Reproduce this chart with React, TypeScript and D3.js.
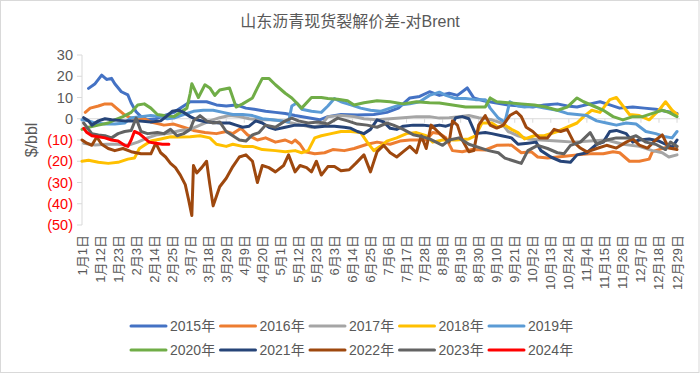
import React from 'react';
import * as d3 from 'd3';

const title = '山东沥青现货裂解价差-对Brent';
const yTicks = [30, 20, 10, 0, -10, -20, -30, -40, -50];
const xTickLabels = ['1月1日','1月12日','1月23日','2月3日','2月14日','2月25日','3月7日','3月18日','3月29日','4月9日','4月20日','5月1日','5月12日','5月23日','6月3日','6月14日','6月25日','7月6日','7月17日','7月28日','8月8日','8月19日','8月30日','9月10日','9月21日','10月2日','10月13日','10月24日','11月4日','11月15日','11月26日','12月7日','12月18日','12月29日'];
const xTickStep = 11;

type Pt = [number, number];
const s2015: Pt[] = [[4,14.3],[8,16.5],[12,20.5],[15,18.5],[18,19],[20,16.5],[24,12.7],[28,11.2],[30,7.4],[33,3.3],[36,1],[40,-0.5],[45,0],[50,1.5],[56,3],[62,6],[66,8],[71,8],[76,8],[82,6.5],[88,6],[94,6.5],[100,5],[105,4.5],[112,3.5],[118,3],[124,2.5],[130,1.5],[138,0.5],[145,-0.5],[150,1],[158,2],[168,1.8],[178,2],[186,3],[193,5],[200,9.8],[206,10.5],[212,12.7],[218,11],[224,12],[229,11],[235,14.5],[239,9.8],[245,8.5],[252,7.5],[260,6.5],[268,6],[275,5.5],[282,6.5],[290,7],[296,6],[302,5.5],[310,7],[316,8],[322,6.5],[328,5],[336,5.5],[343,5],[350,4.5],[356,3.5],[363,2.5]];
const s2016: Pt[] = [[2,3],[5,5],[10,6],[14,7],[18,7],[21,5],[26,1.8],[30,0.3],[38,0],[42,-1.5],[50,-3],[56,-2.5],[62,-4],[68,-5.5],[75,-6.5],[82,-7],[88,-6],[92,-7],[97,-4.5],[101,-7.6],[107,-10],[112,-9],[118,-11],[124,-10],[128,-11.4],[130,-10],[133,-12],[136,-15.5],[142,-16.5],[148,-16],[153,-14.5],[160,-15],[166,-14],[174,-12],[180,-11],[188,-12],[194,-10.5],[200,-10],[206,-10],[210,-10],[214,-6.5],[218,-7],[222,-9],[226,-15],[232,-15.5],[238,-14.5],[246,-14.7],[253,-12.5],[262,-12.4],[268,-16],[274,-15.5],[278,-18],[284,-18.5],[290,-18],[296,-17.5],[302,-17],[310,-16.5],[318,-16.5],[324,-15.5],[328,-16],[334,-20],[340,-20],[346,-19],[348,-15.5],[352,-14.5],[358,-13],[363,-13]];
const s2017: Pt[] = [[1,-11.5],[8,-12.4],[15,-12],[22,-12],[28,-12.5],[34,-11],[40,-9],[46,-7.5],[54,-6.7],[60,-5.5],[66,-5],[72,-3],[78,-1],[84,0.5],[90,1.5],[96,1],[102,0],[108,-0.5],[115,-0.5],[122,-1],[128,-2],[134,-3],[140,-4],[146,-3],[150,1],[158,1.5],[166,1],[172,0],[180,-0.5],[188,0],[196,0.5],[204,1],[212,1],[218,0.3],[224,0.5],[230,1],[236,1.5],[242,0.5],[250,-0.5],[256,-2],[260,-6],[266,-8],[272,-9.5],[280,-10],[290,-10.5],[300,-11],[310,-10.5],[320,-10],[330,-12],[340,-13],[348,-15],[354,-16],[358,-18],[363,-17]];
const s2018: Pt[] = [[0,-20],[4,-19.5],[10,-20.5],[16,-21],[22,-20.5],[28,-19],[32,-18.5],[35,-14],[38,-12.5],[42,-10.5],[48,-9.5],[54,-8.5],[60,-8.6],[66,-8.5],[72,-8],[78,-9],[82,-12],[88,-13],[92,-12],[98,-13],[104,-13],[110,-14.5],[118,-15],[124,-15.5],[130,-15],[134,-16],[138,-15],[142,-9],[146,-8],[152,-7],[158,-6],[164,-6],[170,-6.5],[174,-11],[178,-15],[182,-13],[186,-10.5],[192,-9],[198,-7],[204,-6.5],[210,-8],[214,-11],[220,-10],[228,-10],[236,-9.5],[240,-8],[244,-2],[250,-2],[254,-4],[258,-3],[262,-5],[266,-6.5],[270,-9.5],[276,-8],[282,-8],[290,-6],[296,-4],[302,-2],[306,1],[311,4],[316,3],[322,9],[326,10],[330,6],[334,2],[340,1.5],[346,-0.5],[352,4],[356,8],[360,4],[363,2]];
const s2019: Pt[] = [[0,-0.5],[4,-1],[8,-2],[14,-2.5],[20,-2.5],[26,-2],[30,0.5],[36,1],[42,1.5],[48,1],[52,0],[56,0.3],[62,2],[68,3.5],[74,4],[80,4],[86,3],[92,2],[98,2],[104,1.5],[110,0],[116,-0.5],[122,-1],[126,-1.5],[128,6],[131,7.4],[134,4.5],[140,3.5],[146,3],[150,6],[154,9.5],[158,8],[164,6.5],[170,5],[176,4],[182,3.5],[188,5],[194,6.5],[200,7],[206,8],[212,11],[218,12.5],[222,11],[228,9.5],[234,9.5],[240,9],[246,9],[249,5],[254,0.3],[258,-1.5],[261,8],[266,6],[270,5.5],[276,6],[282,5],[290,4],[296,2.5],[302,2],[308,1.5],[314,-1],[320,-2],[326,-3],[332,-2],[338,-2.5],[344,-6],[350,-7],[356,-8.5],[360,-9],[363,-6]];
const s2020: Pt[] = [[0,-5],[4,-4],[10,-3],[16,-2],[20,-0.5],[25,1],[30,3],[34,6.5],[38,7],[42,5],[46,2],[50,1.5],[56,1],[60,3],[64,5],[66,12],[67,16.5],[71,10],[75,16],[78,14.5],[81,11],[84,13.5],[90,14.5],[94,5.5],[98,7],[104,9.8],[107,14.5],[110,19],[114,19],[118,16],[124,12],[128,9.8],[134,5],[140,10],[146,10],[150,9.5],[156,9.2],[162,8.5],[166,6.5],[172,7.5],[180,8.5],[188,8],[196,7],[204,8],[212,7.5],[218,7.4],[226,6.5],[234,5.5],[242,5.5],[246,5.5],[249,9.8],[253,8],[260,7.5],[268,7],[276,6.5],[283,5.5],[290,4],[296,5.5],[302,9.8],[306,8],[312,6],[318,4],[324,1],[330,-0.5],[336,1],[342,1],[348,2.5],[354,4],[358,3],[363,1]];
const s2021: Pt[] = [[1,0.5],[4,-1],[6,-3],[10,-1],[14,0],[18,-0.5],[26,-1],[34,-1],[42,-1.5],[48,-1],[51,0.8],[55,3.5],[59,4],[62,3],[66,1],[70,-0.5],[76,-1.5],[84,-2],[90,-2],[94,-3],[98,-4],[102,-3.5],[106,-1],[110,-2],[114,-4],[118,-5],[124,-4],[130,-3],[136,-3],[142,-4],[148,-3.5],[154,-3.5],[160,-4],[164,-4.5],[168,-6],[172,-7],[176,-5],[180,-0.5],[184,-1.5],[188,-4.5],[192,-5],[196,-3.5],[202,-3],[208,-3],[214,-3.5],[218,-3],[222,-3.5],[226,-2.5],[228,0.5],[232,1],[236,0],[240,-7],[246,-6.5],[250,-7],[256,-8],[262,-9],[266,-12],[272,-11.5],[277,-11],[280,-15],[286,-18],[292,-20],[298,-20.5],[302,-17],[308,-16],[314,-12],[318,-11],[322,-6],[326,-5.5],[332,-7],[336,-11],[340,-10],[346,-9.5],[352,-10.5],[356,-12],[360,-13.5],[363,-10]];
const s2022: Pt[] = [[0,-10],[3,-11.5],[6,-12.5],[9,-8.6],[12,-12],[16,-14],[20,-15],[25,-14],[30,-15.5],[36,-16.5],[42,-16.5],[45,-11.5],[48,-16],[51,-18],[54,-21],[57,-23],[60,-26.5],[63,-31],[65,-38],[67,-45.5],[68,-22],[70,-25.5],[73,-23],[76,-20],[78,-31],[80,-41],[82,-36.5],[84,-32],[88,-28],[92,-22.5],[96,-18],[100,-17],[104,-20],[107,-30],[110,-22],[114,-23],[118,-25],[123,-22],[126,-17],[130,-25],[133,-22],[137,-23],[140,-25],[143,-20],[146,-26.5],[150,-22.5],[154,-22.5],[158,-24.5],[163,-24],[167,-21],[172,-17],[176,-25],[180,-15.5],[184,-12.5],[188,-16],[192,-18],[196,-15.5],[200,-13],[204,-16],[207,-8],[210,-14],[213,-3],[217,-6],[221,-9],[224,-11],[226,-1],[229,-3],[232,-10],[236,-15.5],[239,-15],[242,-3],[246,1.5],[249,-3],[253,-4.4],[257,-3],[261,1.5],[265,3.3],[268,1],[271,-4],[275,-6],[279,-9],[284,-9],[288,-5],[292,-6],[296,-5],[300,-11],[304,-13.8],[308,-15.6],[314,-14],[320,-12.5],[326,-13.8],[332,-11],[336,-9.5],[340,-12.4],[345,-13.8],[350,-10],[354,-7.6],[358,-13.8],[363,-14.5]];
const s2023: Pt[] = [[1,-2],[3,-4],[6,-7],[10,-7.6],[14,-8],[18,-9],[22,-7],[26,-6],[30,-5.5],[33,0.3],[36,-6],[40,-7],[46,-6.5],[50,-7],[54,-5],[58,-8],[62,-7],[66,-5],[68,-1],[72,1.5],[76,-1],[80,-2],[84,-1.5],[88,-6],[92,-8],[96,-10],[100,-10.5],[104,-7.6],[108,-6.5],[112,-3],[118,-4],[124,-1],[128,0.3],[132,-1],[138,-2],[144,-1.5],[150,-2.5],[156,0.3],[162,-1],[168,-2.5],[174,-3],[180,-4],[186,-2],[190,-3],[196,-5],[202,-7.5],[208,-8.5],[212,-9.5],[216,-11],[220,-12.5],[224,-10],[230,-9],[236,-12],[242,-13.5],[248,-15],[254,-16],[258,-18.5],[264,-20],[268,-21],[272,-15],[278,-12.5],[284,-14],[290,-16],[294,-16.5],[298,-12.5],[304,-11],[310,-6.5],[314,-12],[320,-10],[326,-9],[334,-9],[338,-8],[344,-11],[350,-12],[356,-14.5],[359,-11],[363,-13]];
const s2024: Pt[] = [[1,-4.5],[3,-6.5],[6,-8],[10,-8.5],[14,-9],[18,-10],[22,-10.5],[26,-12.5],[28,-13],[30,-10],[32,-6],[35,-7],[38,-9],[41,-11],[45,-11.5],[49,-12],[53,-12]];

const seriesNames = ['2015年','2016年','2017年','2018年','2019年','2020年','2021年','2022年','2023年','2024年'];
const seriesData = [s2015, s2016, s2017, s2018, s2019, s2020, s2021, s2022, s2023, s2024];
const seriesColors = ['#4472C4','#ED7D31','#A5A5A5','#FFC000','#5B9BD5','#70AD47','#264478','#9E480E','#636363','#FF0000'];

const FONT = '"Liberation Sans", Arial, "Noto Sans CJK SC", sans-serif';
const TXT = '#595959';

export default function App() {
  const W = 700, H = 375;
  const x = d3.scaleLinear().domain([0, 365]).range([82, 680.3]);
  const y = d3.scaleLinear().domain([-50, 30]).range([225, 55]);
  const line = d3.line<Pt>().x(d => x(d[0])).y(d => y(d[1]));

  return (
    <div style={{ position: 'fixed', left: 0, top: 0 }}>
      <svg width={W} height={H} style={{ display: 'block', fontFamily: FONT }}>
        <rect x={0} y={0} width={W} height={H} fill="#fff" />
        <rect x={0.5} y={0.5} width={698.5} height={372} fill="none" stroke="#D9D9D9" />
        <text x={350} y={27} textAnchor="middle" fontSize={16} fill={TXT}>{title}</text>

        {/* y axis */}
        <line x1={82} x2={82} y1={y(30)} y2={y(-50)} stroke="#D9D9D9" />
        {yTicks.map(t => (
          <g key={t}>
            <line x1={77} x2={82} y1={y(t)} y2={y(t)} stroke="#D9D9D9" />
            <text x={73} y={y(t)} dy="0.35em" textAnchor="end" fontSize={14.5}
              fill={t < 0 ? '#FF0000' : TXT}>{t < 0 ? `(${-t})` : `${t}`}</text>
          </g>
        ))}
        <text transform={`translate(37,140) rotate(-90)`} textAnchor="middle" fontSize={16} fill={TXT}>$/bbl</text>

        {/* zero / category axis */}
        <line x1={82} x2={680} y1={y(0)} y2={y(0)} stroke="#D9D9D9" />
        {xTickLabels.map((lab, i) => (
          <g key={lab}>
            <line x1={x(i * xTickStep)} x2={x(i * xTickStep)} y1={y(0)} y2={y(0) + 4} stroke="#D9D9D9" />
            <text transform={`translate(${x(i * xTickStep) + 4.5},235) rotate(-90)`} textAnchor="end"
              fontSize={13} fill={TXT}>{lab}</text>
          </g>
        ))}

        {/* series */}
        {seriesData.map((s, i) => (
          <path key={seriesNames[i]} d={line(s) || ''} fill="none" stroke={seriesColors[i]}
            strokeWidth={3} strokeLinejoin="round" strokeLinecap="round" />
        ))}

        {/* legend */}
        {seriesNames.map((n, i) => {
          const col = i % 5, row = Math.floor(i / 5);
          const lx = 131 + col * 89.5, ly = 326 + row * 24;
          return (
            <g key={n}>
              <line x1={lx} x2={lx + 35} y1={ly} y2={ly} stroke={seriesColors[i]} strokeWidth={3} strokeLinecap="round" />
              <text x={lx + 39} y={ly} dy="0.36em" fontSize={14} fill={TXT}>{n}</text>
            </g>
          );
        })}
      </svg>
    </div>
  );
}
